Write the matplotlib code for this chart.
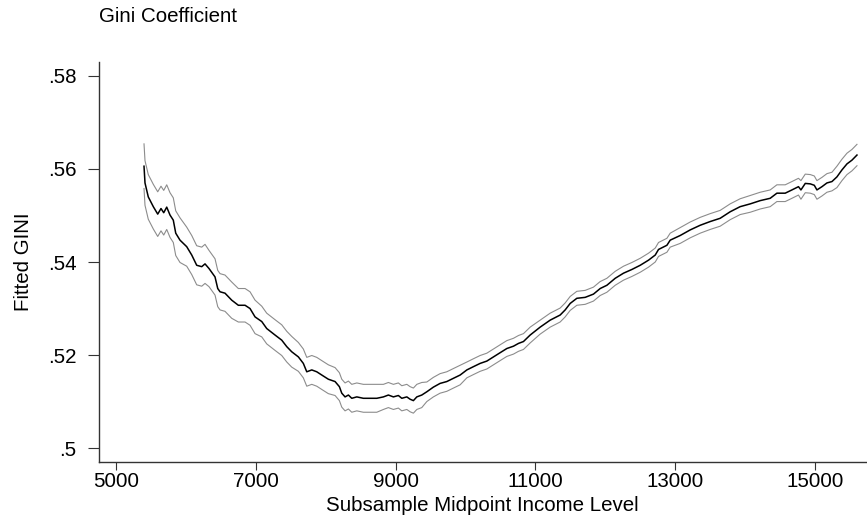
import matplotlib
matplotlib.use("Agg")
import matplotlib.pyplot as plt
import numpy as np

plt.rcParams['font.family'] = ['Liberation Sans', 'DejaVu Sans']

# subsample midpoint income and fitted gini
income = [5401, 5415, 5462, 5534, 5597, 5644, 5683, 5726, 5773, 5820,
          5855, 5916, 6012, 6084, 6155, 6227, 6274, 6331, 6417, 6456,
          6489, 6560, 6656, 6751, 6847, 6918, 6990, 7086, 7157, 7276,
          7372, 7444, 7515, 7610, 7681, 7730, 7802, 7873, 7945, 8039,
          8135, 8197, 8231, 8278, 8326, 8374, 8446, 8540, 8636, 8732,
          8827, 8898, 8970, 9041, 9090, 9162, 9209, 9256, 9305, 9376,
          9448, 9542, 9638, 9734, 9829, 9925, 10021, 10115, 10211, 10307,
          10402, 10497, 10593, 10688, 10760, 10831, 10927, 11070, 11213, 11356,
          11428, 11500, 11595, 11714, 11833, 11929, 12025, 12144, 12263, 12383,
          12502, 12621, 12717, 12764, 12884, 12931, 13074, 13217, 13360, 13503,
          13646, 13789, 13932, 14076, 14219, 14362, 14458, 14577, 14673, 14767,
          14802, 14864, 14936, 14993, 15031, 15103, 15174, 15246, 15317, 15389,
          15461, 15532, 15604]

gini = [0.5606, 0.5570, 0.5540, 0.5519, 0.5503, 0.5515, 0.5506, 0.5518, 0.5501, 0.5490,
        0.5462, 0.5447, 0.5433, 0.5415, 0.5393, 0.5390, 0.5396, 0.5386, 0.5368, 0.5343,
        0.5336, 0.5333, 0.5318, 0.5307, 0.5307, 0.5300, 0.5282, 0.5272, 0.5257, 0.5243,
        0.5232, 0.5218, 0.5207, 0.5196, 0.5182, 0.5164, 0.5168, 0.5164, 0.5157, 0.5148,
        0.5143, 0.5132, 0.5118, 0.5110, 0.5114, 0.5107, 0.5110, 0.5107, 0.5107, 0.5107,
        0.5110, 0.5114, 0.5110, 0.5113, 0.5107, 0.5110, 0.5105, 0.5102, 0.5110, 0.5114,
        0.5121, 0.5131, 0.5139, 0.5143, 0.5150, 0.5157, 0.5168, 0.5175, 0.5182, 0.5187,
        0.5196, 0.5205, 0.5214, 0.5219, 0.5225, 0.5229, 0.5243, 0.5260, 0.5275, 0.5286,
        0.5297, 0.5311, 0.5322, 0.5324, 0.5331, 0.5343, 0.5350, 0.5365, 0.5376, 0.5384,
        0.5393, 0.5404, 0.5415, 0.5427, 0.5436, 0.5447, 0.5457, 0.5469, 0.5479, 0.5487,
        0.5494, 0.5508, 0.5519, 0.5525, 0.5532, 0.5537, 0.5548, 0.5548, 0.5555, 0.5562,
        0.5555, 0.5569, 0.5568, 0.5565, 0.5555, 0.5562, 0.5570, 0.5573, 0.5583, 0.5598,
        0.5611, 0.5619, 0.5630]

# half width of the confidence band at each point
band = ([0.0048] * 12 + [0.0042] * 5 + [0.0039] * 6 + [0.0036] * 4 +
        [0.0033] * 6 + [0.0031] * 7 + [0.0030] * 10 + [0.0027] * 10 +
        [0.0021] * 6 + [0.0017] * 11 + [0.0015] * 19 + [0.0017] * 7 +
        [0.0018] * 7 + [0.0020] * 8 + [0.0023] * 5)

xticks = [5000, 7000, 9000, 11000, 13000, 15000]
yticks = [0.5, 0.52, 0.54, 0.56, 0.58]
ylabels = [".5", ".52", ".54", ".56", ".58"]

income = np.array(income)
gini = np.array(gini)
band = np.array(band)

fig = plt.figure(figsize=(8.67, 5.19), dpi=100)
ax = fig.add_axes([0.1138, 0.1098, 0.886, 0.7707])

ax.plot(income, gini + band, color="#8c8c8c", linewidth=0.8)
ax.plot(income, gini - band, color="#8c8c8c", linewidth=0.8)
ax.plot(income, gini, color="black", linewidth=1.1)

ax.set_xlim(4752, 15745)
ax.set_ylim(0.497, 0.583)

ax.spines["top"].set_visible(False)
ax.spines["right"].set_visible(False)
for s in ["left", "bottom"]:
    ax.spines[s].set_color("#333333")
    ax.spines[s].set_linewidth(1.0)

ax.set_xticks(xticks)
ax.set_xticklabels([str(t) for t in xticks])
ax.set_yticks(yticks)
ax.set_yticklabels(ylabels)
ax.tick_params(axis="x", length=5.5, width=0.8, color="#333333", pad=2, labelsize=14.8)
ax.tick_params(axis="y", length=8, width=0.8, color="#333333", pad=8, labelsize=14.8)

ax.set_xlabel("Subsample Midpoint Income Level", fontsize=14.8, labelpad=3.5)
ax.set_ylabel("Fitted GINI", fontsize=14.8, labelpad=11)
fig.text(0.1138, 1 - 17 / 519, "Gini Coefficient", fontsize=14.8, va="center", ha="left")

fig.savefig("out.png", dpi=100)
